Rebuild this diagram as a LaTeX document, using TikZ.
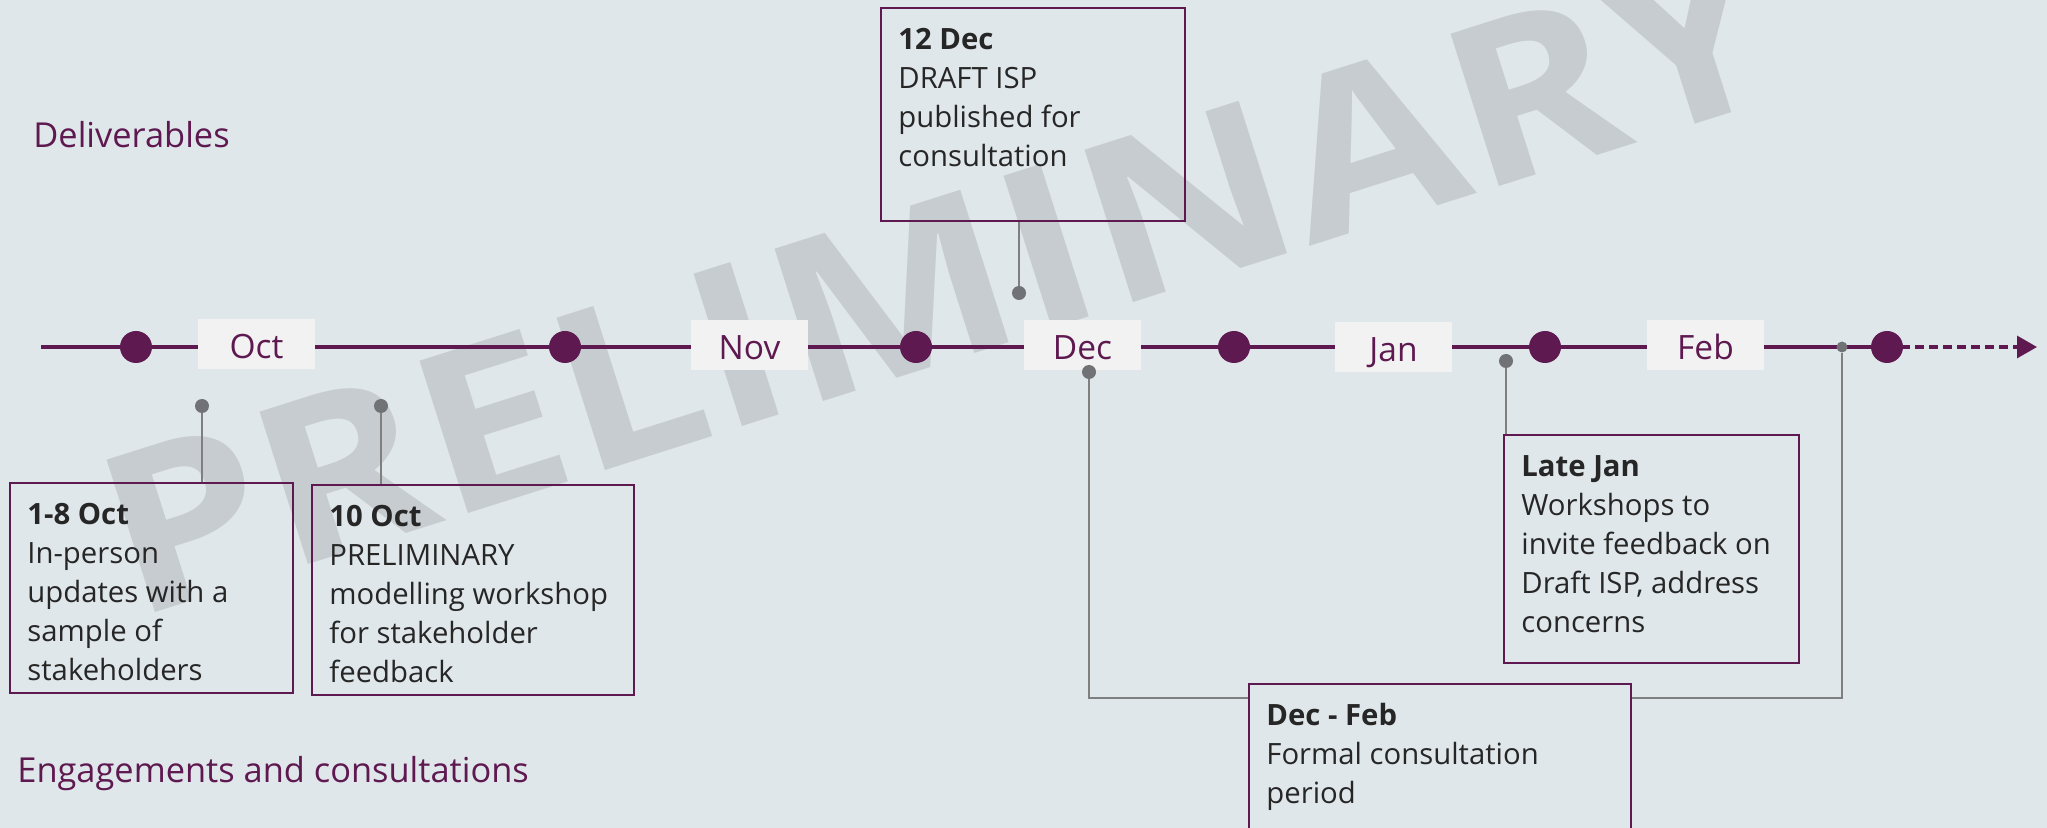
\documentclass[tikz,border=0pt]{standalone}
\usepackage{fontspec}
\setmainfont{Open Sans}
\usetikzlibrary{arrows.meta, positioning}
\definecolor{isppurple}{RGB}{94,25,80}
\definecolor{ispback}{RGB}{224,231,234}
\definecolor{ispmark}{RGB}{199,204,208}
\definecolor{isplabel}{RGB}{242,242,242}
\definecolor{isptext}{RGB}{38,38,38}
\definecolor{isppin}{RGB}{112,114,117}
\definecolor{ispline}{RGB}{127,127,127}

\newcommand{\evhead}[1]{\rule{0pt}{12pt}\textbf{#1}}

\begin{document}
\begin{tikzpicture}[x=0.5pt, y=-0.5pt,
    timeline/.style={isppurple, line width=1.65pt},
    bigdot/.style={circle, fill=isppurple, minimum size=16pt, inner sep=0pt},
    pindot/.style={circle, fill=isppin, minimum size=7pt, inner sep=0pt},
    pinline/.style={ispline, line width=0.65pt},
    month/.style={fill=isplabel, text=isppurple, minimum width=58.5pt, minimum height=25pt,
        inner sep=0pt, text height=14.5pt, text depth=0pt, font=\fontsize{16.75pt}{20pt}\selectfont},
    evbox/.style={draw=isppurple, line width=1pt, anchor=north west, inner sep=0pt},
    evtext/.style={text=isptext, align=left, inner sep=0pt, font=\fontsize{14.65pt}{19.5pt}\selectfont},
    rowtitle/.style={text=isppurple, anchor=base west, inner sep=0pt, font=\fontsize{17.2pt}{20pt}\selectfont}]
    \clip (0,0) rectangle (2047,828);
    \fill[ispback] (0,0) rectangle (2047,828);

    % Watermark
    \node[rotate=17.6, anchor=base west, inner sep=0pt, text=ispmark,
        font=\fontsize{112pt}{112pt}\selectfont\bfseries] (mark) at (133,620) {\scalebox{1.14}[1]{PRELIMINARY}};

    % Row titles
    \node[rowtitle] (deliv) at (33,148) {Deliverables};
    \node[rowtitle] (engage) at (17,782) {Engagements and consultations};

    % Timeline
    \coordinate (tlstart) at (41,347);
    \coordinate (tldash) at (1887,347);
    \coordinate (tlend) at (2037,347);
    \draw[timeline] (tlstart) -- (tldash);
    \draw[timeline, dash pattern=on 4.5pt off 2.5pt, -{Triangle[length=10pt, width=11pt]}] (tldash) -- (tlend);

    % Months
    \node[month] (oct) at (256.5,344.5) {Oct};
    \node[month] (nov) at (749.5,345) {Nov};
    \node[month] (dec) at (1082.5,345.5) {Dec};
    \node[month] (jan) at (1393.5,347.5) {Jan};
    \node[month] (feb) at (1705.5,345.5) {Feb};

    \foreach \x [count=\i] in {136,565,916,1234,1545,1887}
        \node[bigdot] (d\i) at (\x,347) {};

    % Deliverables
    \node[evbox, minimum width=152pt, minimum height=106.5pt] (dec12) at (880,7) {};
    \node[evtext, below right=9pt and 9pt of dec12.north west] (dec12txt)
        {\evhead{12 Dec}\\DRAFT ISP\\published for\\consultation};
    \node[pindot] (pin3) at (1019,293) {};
    \draw[pinline] (pin3) -- (pin3 |- dec12.south);

    % Engagements and consultations
    \node[evbox, minimum width=141.5pt, minimum height=105pt] (oct18) at (9,482) {};
    \node[evtext, below right=9pt and 9pt of oct18.north west] (oct18txt)
        {\evhead{1-8 Oct}\\In-person\\updates with a\\sample of\\stakeholders};
    \node[pindot] (pin1) at (202,406) {};
    \draw[pinline] (pin1) -- (pin1 |- oct18.north);

    \node[evbox, minimum width=161pt, minimum height=105pt] (oct10) at (311,484) {};
    \node[evtext, below right=9pt and 9pt of oct10.north west] (oct10txt)
        {\evhead{10 Oct}\\PRELIMINARY\\modelling workshop\\for stakeholder\\feedback};
    \node[pindot] (pin2) at (381,406) {};
    \draw[pinline] (pin2) -- (pin2 |- oct10.north);

    \node[evbox, minimum width=147.5pt, minimum height=114pt] (latejan) at (1503,434) {};
    \node[evtext, below right=9pt and 9pt of latejan.north west] (latejantxt)
        {\evhead{Late Jan}\\Workshops to\\invite feedback on\\Draft ISP, address\\concerns};
    \node[pindot] (pin6) at (1506,361) {};
    \draw[pinline] (pin6) -- (pin6 |- latejan.north);

    \node[evbox, minimum width=191pt, minimum height=100pt] (decfeb) at (1248,683) {};
    \node[evtext, below right=9pt and 9pt of decfeb.north west] (decfebtxt)
        {\evhead{Dec - Feb}\\Formal consultation\\period};
    \node[pindot] (pin4) at (1089,372) {};
    \node[pindot, minimum size=5.5pt] (pin5) at (1842,347) {};
    \draw[pinline] (pin4) |- ([yshift=-7.5pt]decfeb.north west);
    \draw[pinline] (pin5) |- ([yshift=-7.5pt]decfeb.north east);
\end{tikzpicture}
\end{document}
